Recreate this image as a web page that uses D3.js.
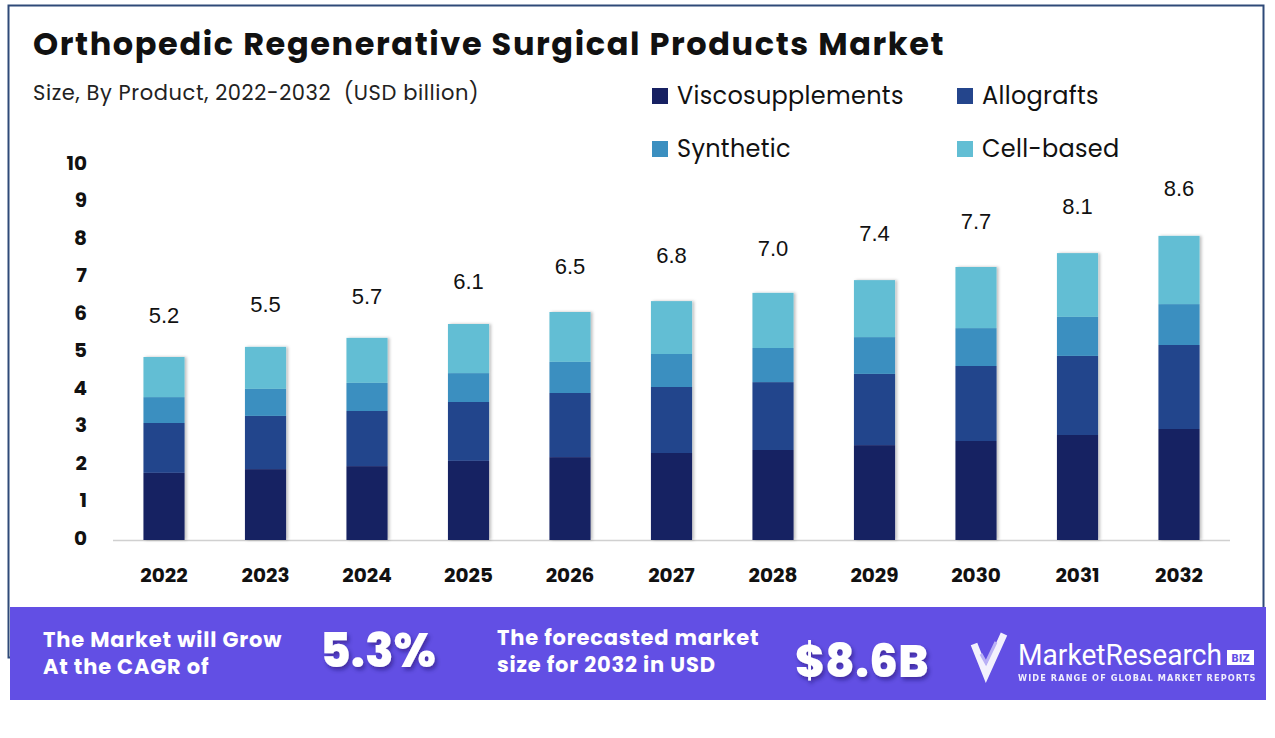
<!DOCTYPE html>
<html>
<head>
<meta charset="utf-8">
<script src="https://cdn.jsdelivr.net/npm/d3@7"></script>
<style>
  body { margin: 0; background: #fff; }
  svg { display: block; }
</style>
</head>
<body>
<div id="chart"></div>
<script>
// values (USD billion)
var years = ["2022", "2023", "2024", "2025", "2026", "2027", "2028", "2029", "2030", "2031", "2032"];
var viscosupplements = [1.79, 1.89, 1.97, 2.11, 2.21, 2.32, 2.40, 2.53, 2.64, 2.80, 2.96];
var allografts       = [1.33, 1.42, 1.47, 1.57, 1.71, 1.76, 1.81, 1.90, 2.00, 2.11, 2.24];
var synthetic        = [0.69, 0.72, 0.75, 0.77, 0.83, 0.88, 0.91, 0.98, 1.01, 1.04, 1.09];
var cellBased        = [1.07, 1.12, 1.20, 1.31, 1.33, 1.41, 1.47, 1.52, 1.63, 1.70, 1.82];
var totals           = [5.2, 5.5, 5.7, 6.1, 6.5, 6.8, 7.0, 7.4, 7.7, 8.1, 8.6];
var yTicks = [0, 1, 2, 3, 4, 5, 6, 7, 8, 9, 10];

var seriesNames = ["Viscosupplements", "Allografts", "Synthetic", "Cell-based"];
var colors = ["#172162", "#24458c", "#3b8fc0", "#62bed4"];

var W = 1275, H = 738;
var font = "Poppins, Inter, 'Open Sans', sans-serif";

var svg = d3.select("#chart").append("svg")
    .attr("width", W)
    .attr("height", H);

var defs = svg.append("defs");
var shadow = defs.append("filter").attr("id", "barShadow")
    .attr("x", "-20%").attr("y", "-5%").attr("width", "150%").attr("height", "110%");
shadow.append("feDropShadow")
    .attr("dx", 2).attr("dy", 0).attr("stdDeviation", 1.5)
    .attr("flood-color", "#000").attr("flood-opacity", 0.25);

var txtShadow = defs.append("filter").attr("id", "txtShadow")
    .attr("x", "-10%").attr("y", "-10%").attr("width", "130%").attr("height", "140%");
txtShadow.append("feDropShadow")
    .attr("dx", 2).attr("dy", 3).attr("stdDeviation", 2)
    .attr("flood-color", "#1a1050").attr("flood-opacity", 0.45);

// frame
svg.append("rect")
    .attr("x", 8.5).attr("y", 5.5)
    .attr("width", 1255).attr("height", 652)
    .attr("fill", "none")
    .attr("stroke", "#2f4a78")
    .attr("stroke-width", 2);

// title
svg.append("text")
    .attr("x", 33).attr("y", 55)
    .attr("font-family", font)
    .attr("font-weight", 700)
    .attr("font-size", 32)
    .attr("letter-spacing", 1.6)
    .attr("fill", "#111")
    .text("Orthopedic Regenerative Surgical Products Market");

svg.append("text")
    .attr("x", 33).attr("y", 100)
    .attr("font-family", font)
    .attr("font-size", 21)
    .attr("letter-spacing", 0.6)
    .attr("fill", "#222")
    .attr("xml:space", "preserve")
    .text("Size, By Product, 2022-2032  (USD billion)");

// legend
var legendPos = [[652, 96], [957, 96], [652, 149], [957, 149]];
var legend = svg.append("g").selectAll("g")
    .data(seriesNames)
    .enter().append("g")
    .attr("transform", function(d, i) { return "translate(" + legendPos[i][0] + "," + legendPos[i][1] + ")"; });

legend.append("rect")
    .attr("x", 0).attr("y", -8)
    .attr("width", 16).attr("height", 16)
    .attr("fill", function(d, i) { return colors[i]; });

legend.append("text")
    .attr("x", 25).attr("y", 8)
    .attr("font-family", font)
    .attr("font-size", 24)
    .attr("letter-spacing", 0.3)
    .attr("fill", "#111")
    .text(function(d) { return d; });

// scales
var x = d3.scaleBand()
    .domain(years)
    .range([113, 1230])
    .paddingInner(0.595)
    .paddingOuter(0.3);

var y = d3.scaleLinear()
    .domain([0, 10])
    .range([540, 165]);

// stack
var rows = years.map(function(yr, i) {
    return {
        year: yr,
        Viscosupplements: viscosupplements[i],
        Allografts: allografts[i],
        Synthetic: synthetic[i],
        "Cell-based": cellBased[i]
    };
});
var stacked = d3.stack().keys(seriesNames)(rows);

// baseline
svg.append("line")
    .attr("x1", 113).attr("x2", 1230)
    .attr("y1", y(0) + 0.5).attr("y2", y(0) + 0.5)
    .attr("stroke", "#d0d0d0")
    .attr("stroke-width", 1.5);

var barsG = svg.append("g");
barsG.selectAll("g.bar")
    .data(years)
    .enter().append("g")
    .attr("filter", "url(#barShadow)")
    .each(function(yr, i) {
        var g = d3.select(this);
        stacked.forEach(function(layer, k) {
            g.append("rect")
                .attr("x", x(yr))
                .attr("width", x.bandwidth())
                .attr("y", y(layer[i][1]))
                .attr("height", y(layer[i][0]) - y(layer[i][1]))
                .attr("fill", colors[k]);
        });
    });

// total labels
svg.append("g").selectAll("text")
    .data(totals)
    .enter().append("text")
    .attr("x", function(d, i) { return x(years[i]) + x.bandwidth() / 2; })
    .attr("y", function(d) { return y(d) - 22; })
    .attr("text-anchor", "middle")
    .attr("font-family", "'Liberation Sans', Arial, sans-serif")
    .attr("font-size", 22)
    .attr("fill", "#111")
    .text(function(d) { return d.toFixed(1); });

// y axis
var yAxis = d3.axisLeft(y).tickValues(yTicks).tickSize(0).tickPadding(0);
var yG = svg.append("g")
    .attr("transform", "translate(87,-2)")
    .call(yAxis);
yG.select(".domain").remove();
yG.selectAll("text")
    .attr("font-family", font)
    .attr("font-weight", 700)
    .attr("font-size", 20)
    .attr("fill", "#111");

// x axis
var xAxis = d3.axisBottom(x).tickSize(0).tickPadding(0);
var xG = svg.append("g")
    .attr("transform", "translate(0,570)")
    .call(xAxis);
xG.select(".domain").remove();
xG.selectAll("text")
    .attr("dy", "0.6em")
    .attr("font-family", font)
    .attr("font-weight", 700)
    .attr("font-size", 20)
    .attr("fill", "#111");

// bottom banner
var banner = svg.append("g");
banner.append("rect")
    .attr("x", 10).attr("y", 607)
    .attr("width", 1256).attr("height", 93)
    .attr("fill", "#624fe4");

function bannerText(tx, ty, size, weight, ls, str) {
    return banner.append("text")
        .attr("x", tx).attr("y", ty)
        .attr("font-family", font).attr("font-weight", weight).attr("font-size", size)
        .attr("letter-spacing", ls)
        .attr("fill", "#fff")
        .text(str);
}
bannerText(43, 647, 21, 700, 0.8, "The Market will Grow");
bannerText(43, 674, 21, 700, 0.8, "At the CAGR of");
bannerText(320, 667, 47, 800, 0, "5.3%").attr("filter", "url(#txtShadow)");
bannerText(497, 645, 21, 700, 0.8, "The forecasted market");
bannerText(497, 672, 21, 700, 0.8, "size for 2032 in USD");
bannerText(795, 677, 45, 800, 0.5, "$8.6B").attr("filter", "url(#txtShadow)");

// logo
var logo = banner.append("g").attr("transform", "translate(970,630)");
logo.append("path")
    .attr("d", "M4,14 L16,44 L34,4")
    .attr("fill", "none")
    .attr("stroke", "#fff")
    .attr("stroke-width", 7)
    .attr("stroke-linejoin", "miter")
    .attr("opacity", 0.92);
logo.append("path")
    .attr("d", "M11,24 L16,33 L26,12")
    .attr("fill", "none")
    .attr("stroke", "#b9b0f5")
    .attr("stroke-width", 3);
logo.append("text")
    .attr("x", 48).attr("y", 35)
    .attr("font-family", "'Roboto', 'Liberation Sans', sans-serif")
    .attr("font-size", 29)
    .attr("textLength", 204)
    .attr("lengthAdjust", "spacingAndGlyphs")
    .attr("fill", "#fff")
    .text("MarketResearch");
logo.append("rect")
    .attr("x", 257).attr("y", 20)
    .attr("width", 27).attr("height", 15)
    .attr("fill", "#fff");
logo.append("text")
    .attr("x", 270.5).attr("y", 31.5)
    .attr("text-anchor", "middle")
    .attr("font-family", "'DejaVu Sans', sans-serif")
    .attr("font-weight", 700)
    .attr("font-size", 10)
    .attr("fill", "#624fe4")
    .text("BIZ");
logo.append("text")
    .attr("x", 48).attr("y", 51)
    .attr("font-family", "'DejaVu Sans', sans-serif")
    .attr("font-weight", 700)
    .attr("font-size", 8.2)
    .attr("letter-spacing", 1.1)
    .attr("fill", "#fff")
    .attr("opacity", 0.9)
    .text("WIDE RANGE OF GLOBAL MARKET REPORTS");
</script>
</body>
</html>
